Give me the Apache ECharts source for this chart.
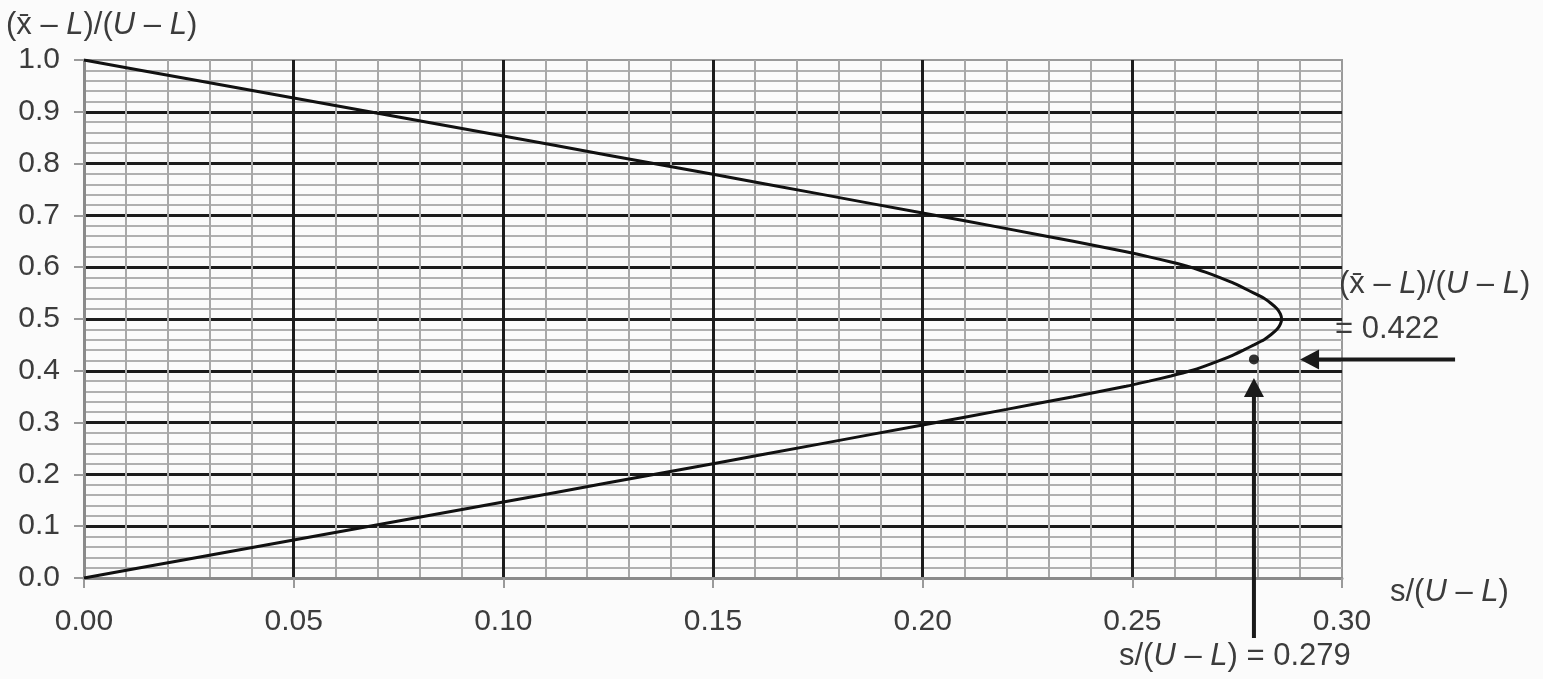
<!DOCTYPE html>
<html>
<head>
<meta charset="utf-8">
<script src="https://cdn.jsdelivr.net/npm/echarts@6/dist/echarts.min.js"></script>
<style>
  html, body { margin: 0; padding: 0; background: #fbfbfb; }
  #chart { width: 1543px; height: 679px; }
</style>
</head>
<body>
<div id="chart"></div>
<script>
// ---- Data ----
// Lower branch of the acceptance curve: s/(U-L) vs (x̄-L)/(U-L)
const lowerX = [0, 0.025, 0.05, 0.075, 0.10, 0.125, 0.15, 0.175, 0.20, 0.22, 0.2359, 0.2485, 0.2540, 0.2592, 0.2639, 0.2676, 0.2709, 0.2739, 0.2765, 0.2790, 0.2814, 0.2831, 0.2845, 0.2853, 0.2856];
const lowerY = [0, 0.0366, 0.0733, 0.1100, 0.1468, 0.1837, 0.2207, 0.2580, 0.2955, 0.3255, 0.35, 0.37, 0.38, 0.39, 0.40, 0.41, 0.42, 0.43, 0.44, 0.45, 0.46, 0.47, 0.48, 0.49, 0.50];
// Upper branch
const upperX = [0.2853, 0.2845, 0.2831, 0.2814, 0.2790, 0.2765, 0.2739, 0.2709, 0.2676, 0.2639, 0.2592, 0.2540, 0.2485, 0.2359, 0.22, 0.20, 0.175, 0.15, 0.125, 0.10, 0.075, 0.05, 0.025, 0];
const upperY = [0.51, 0.52, 0.53, 0.54, 0.55, 0.56, 0.57, 0.58, 0.59, 0.60, 0.61, 0.62, 0.63, 0.65, 0.6745, 0.7045, 0.7420, 0.7793, 0.8163, 0.8532, 0.8900, 0.9267, 0.9634, 1.0];
// Marked sample point
const pointX = 0.279;
const pointY = 0.422;
// Arrow tip positions (data units)
const hArrowTipX = 0.29;
const vArrowTipY = 0.386;
// Axis settings
const xMin = 0, xMax = 0.30, xStep = 0.05;
const yMin = 0, yMax = 1.0, yStep = 0.1;
// Texts
const yName = '(x\u0304 \u2013 {i|L}){s|/}({i|U} \u2013 {i|L})';
const xName = 's/({i|U} \u2013 {i|L})';
const annotY1 = '(x\u0304 \u2013 {i|L}){s|/}({i|U} \u2013 {i|L})';
const annotY2 = '= ' + pointY.toFixed(3);
const annotX = 's/({i|U} \u2013 {i|L}) = ' + pointX.toFixed(3);

const curveData = [];
lowerX.forEach((x, i) => curveData.push([x, lowerY[i]]));
upperX.forEach((x, i) => curveData.push([x, upperY[i]]));

const FONT = 'Liberation Sans, Arial, Helvetica, sans-serif';
const TXT = '#3c3c3c';
const FS = 31;
const rich = {
  i: { fontStyle: 'italic', fontFamily: FONT, fontSize: FS, fill: TXT, color: TXT },
  s: { fontFamily: FONT, fontSize: FS, fill: TXT, color: TXT }
};

const chart = echarts.init(document.getElementById('chart'), null, { renderer: 'canvas' });
const GL = 84, GR = 201, GT = 60, GB = 101;

chart.setOption({
  backgroundColor: '#fbfbfb',
  animation: false,
  grid: { left: GL, right: GR, top: GT, bottom: GB, show: true, borderColor: '#9a9a9a', borderWidth: 2, backgroundColor: 'transparent' },
  xAxis: {
    type: 'value', min: xMin, max: xMax, interval: xStep,
    axisLine: { show: true, onZero: false, lineStyle: { color: '#8a8a8a', width: 3 } },
    axisTick: { show: true, length: 10, lineStyle: { color: '#9a9a9a', width: 2 } },
    axisLabel: { fontFamily: FONT, fontSize: 30, color: TXT, margin: 29, formatter: v => v.toFixed(2) },
    splitLine: { show: true, showMinLine: false, showMaxLine: false, lineStyle: { color: '#1c1c1c', width: 3 } },
    minorTick: { show: false, splitNumber: 5 },
    minorSplitLine: { show: true, lineStyle: { color: '#a8a8a8', width: 2 } }
  },
  yAxis: {
    type: 'value', min: yMin, max: yMax, interval: yStep,
    axisLine: { show: true, onZero: false, lineStyle: { color: '#8a8a8a', width: 3 } },
    axisTick: { show: true, length: 10, lineStyle: { color: '#9a9a9a', width: 2 } },
    axisLabel: { fontFamily: FONT, fontSize: 30, color: TXT, margin: 24, formatter: v => v.toFixed(1) },
    splitLine: { show: true, showMinLine: false, showMaxLine: false, lineStyle: { color: '#1c1c1c', width: 3 } },
    minorTick: { show: false, splitNumber: 5 },
    minorSplitLine: { show: true, lineStyle: { color: '#b0b0b0', width: 2 } }
  },
  series: [
    {
      type: 'line', data: curveData, showSymbol: false, smooth: 0.2,
      lineStyle: { color: '#111', width: 3 }, z: 5
    },
    {
      type: 'scatter', data: [[pointX, pointY]], symbolSize: 10,
      itemStyle: { color: '#000' }, z: 6
    }
  ]
});

const [px, py] = chart.convertToPixel({ gridIndex: 0 }, [pointX, pointY]);
const hTip = chart.convertToPixel({ gridIndex: 0 }, [hArrowTipX, pointY])[0];
const vTip = chart.convertToPixel({ gridIndex: 0 }, [pointX, vArrowTipY])[1];
const bottomY = chart.convertToPixel({ gridIndex: 0 }, [0, 0])[1];
const AH = 19, AW = 10;

chart.setOption({
  graphic: [
    { type: 'text', left: 6, top: 10, style: { text: yName, rich: rich, font: FS + 'px ' + FONT, fill: TXT } },
    { type: 'text', left: 1390, top: 577, style: { text: xName, rich: rich, font: FS + 'px ' + FONT, fill: TXT } },
    { type: 'text', left: 1339, top: 269, style: { text: annotY1, rich: rich, font: FS + 'px ' + FONT, fill: TXT } },
    { type: 'text', left: 1335, top: 314, style: { text: annotY2, font: FS + 'px ' + FONT, fill: TXT } },
    { type: 'text', left: 1119, top: 641, style: { text: annotX, rich: rich, font: FS + 'px ' + FONT, fill: TXT } },
    // horizontal arrow
    { type: 'line', shape: { x1: hTip + AH - 2, y1: py, x2: hTip + 155, y2: py }, style: { stroke: '#1a1a1a', lineWidth: 4 }, z: 10 },
    { type: 'polygon', shape: { points: [[hTip, py], [hTip + AH, py - AW], [hTip + AH, py + AW]] }, style: { fill: '#1a1a1a' }, z: 10 },
    // vertical arrow
    { type: 'line', shape: { x1: px, y1: vTip + AH - 2, x2: px, y2: bottomY + 60 }, style: { stroke: '#1a1a1a', lineWidth: 4 }, z: 10 },
    { type: 'polygon', shape: { points: [[px, vTip], [px - AW, vTip + AH], [px + AW, vTip + AH]] }, style: { fill: '#1a1a1a' }, z: 10 }
  ]
});
</script>
</body>
</html>
